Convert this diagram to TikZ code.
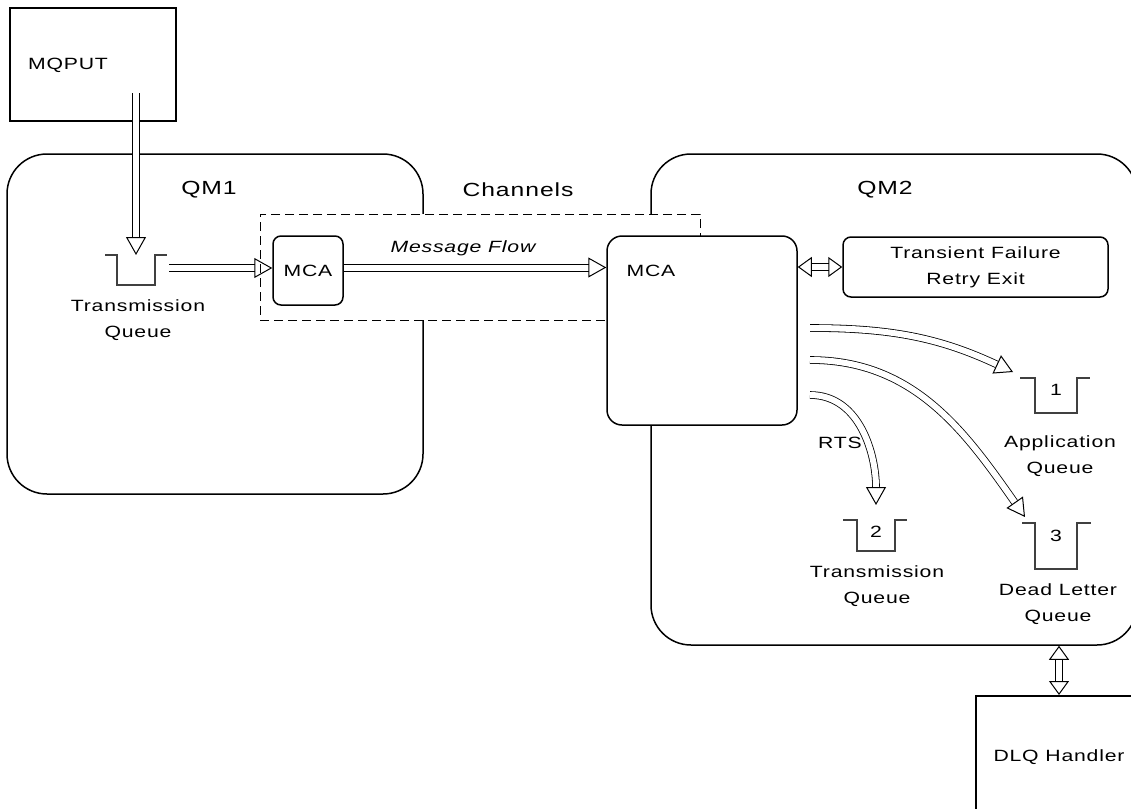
\documentclass[tikz,border=0pt]{standalone}
\usepackage{fontspec}
\setmainfont{Liberation Sans}[FakeStretch=1.3,LetterSpace=5]
\usetikzlibrary{arrows.meta}

\begin{document}
\begin{tikzpicture}[x=1pt,y=-1pt,line width=1.5pt,
	every node/.style={font=\fontsize{16.3}{26}\selectfont,align=center},
	big/.style={font=\fontsize{19}{26}\selectfont},
	hollow/.style={double,double distance=6pt,line width=1pt,-{Triangle[open,length=18pt,width=20pt,line width=1pt]}},
	hollowtwo/.style={double,double distance=6pt,line width=1pt,{Triangle[open,length=14pt,width=20pt,line width=1pt]}-{Triangle[open,length=14pt,width=20pt,line width=1pt]}},
	queue/.style={inner sep=0pt,outer sep=0pt},
	qline/.style={draw=black!75,line width=1.2pt}]
	\useasboundingbox (0,0) rectangle (1131,808);
	\clip (0,0) rectangle (1131,808);
	\node[draw,minimum width=166pt,minimum height=113pt] (mqput) at (93,64.5) {};
	\node (mqputlbl) at (68,65) {MQPUT};
	\node[draw,rounded corners=40pt,minimum width=416pt,minimum height=340pt] (qmone) at (215,324) {};
	\node[draw,rounded corners=40pt,minimum width=486pt,minimum height=491pt] (qmtwo) at (894,399.5) {};
	\node[draw,dashed,dash pattern=on 9pt off 5pt,line width=1pt,fill=white,minimum width=440pt,minimum height=106pt] (chan) at (480,267) {};
	\node[big] (qmonelbl) at (209,190) {QM1};
	\node[big] (chanlbl) at (518,190) {Channels};
	\node[big] (qmtwolbl) at (885,190) {QM2};
	\node[draw,fill=white,rounded corners=8pt,minimum width=70pt,minimum height=69pt] (mcaone) at (308,270.5) {MCA};
	\node[draw,fill=white,rounded corners=15pt,minimum width=190pt,minimum height=189pt] (mcatwo) at (702,330.5) {};
	\node (mcatwolbl) at (651,271) {MCA};
	\node[draw,rounded corners=8pt,minimum width=265pt,minimum height=60pt] (tfre) at (975.5,267) {Transient Failure\\Retry Exit};
	\node[draw,minimum width=200pt,minimum height=150pt,anchor=north west] (dlq) at (975,695) {};
	\node (dlqlbl) at (1059,757) {DLQ Handler};
	\node[queue,minimum width=38pt,minimum height=30pt] (txqa) at (136,270) {};
	\draw[qline] ([xshift=-12pt]txqa.north west) -- (txqa.north west) -- (txqa.south west) -- (txqa.south east) -- (txqa.north east) -- ([xshift=12pt]txqa.north east);
	\node (txqalbl) at (138,320) {Transmission\\Queue};
	\node[queue,minimum width=42pt,minimum height=35pt] (appq) at (1056,395.5) {};
	\draw[qline] ([xshift=-15pt]appq.north west) -- (appq.north west) -- (appq.south west) -- (appq.south east) -- (appq.north east) -- ([xshift=13pt]appq.north east);
	\node (numa) at (1056,390) {1};
	\node (appqlbl) at (1060,456) {Application\\Queue};
	\node[queue,minimum width=38pt,minimum height=31pt] (retq) at (876,535.5) {};
	\draw[qline] ([xshift=-14pt]retq.north west) -- (retq.north west) -- (retq.south west) -- (retq.south east) -- (retq.north east) -- ([xshift=12pt]retq.north east);
	\node (numb) at (876,532) {2};
	\node (retqlbl) at (877,586) {Transmission\\Queue};
	\node[queue,minimum width=42pt,minimum height=46pt] (deadq) at (1056,546) {};
	\draw[qline] ([xshift=-13pt]deadq.north west) -- (deadq.north west) -- (deadq.south west) -- (deadq.south east) -- (deadq.north east) -- ([xshift=14pt]deadq.north east);
	\node (numc) at (1056,536) {3};
	\node (deadqlbl) at (1058,604) {Dead Letter\\Queue};
	\node (rtslbl) at (840,443) {RTS};
	\coordinate (putsrc) at (136,93);
	\coordinate (outa) at (810,328);
	\coordinate (outb) at (810,360);
	\coordinate (outc) at (810,395);
	\draw[hollow] (putsrc) -- (txqa.north);
	\draw[hollow] ([xshift=14pt,yshift=2pt]txqa.east) -- ([yshift=2pt]txqa.east -| mcaone.west);
	\draw[hollow] ([yshift=3pt]mcaone.east) -- ([yshift=3pt]mcaone.east -| mcatwo.west);
	\node (flowlbl) at (463,248) {\itshape Message Flow};
	\draw[hollowtwo] (mcatwo.east |- tfre.west) -- (tfre.west);
	\draw[hollow,line width=0.8pt] (outa) to[out=0,in=155] ([xshift=-22pt,yshift=6pt]appq.north west);
	\draw[hollow,line width=0.8pt] (outb) to[out=0,in=125] ([xshift=-10pt,yshift=6pt]deadq.north west);
	\draw[hollow,line width=0.8pt] (outc) to[out=0,in=90] ([yshift=15pt]retq.north);
	\draw[hollowtwo] (qmtwo.south -| dlqlbl) -- (dlq.north -| dlqlbl);
\end{tikzpicture}
\end{document}
